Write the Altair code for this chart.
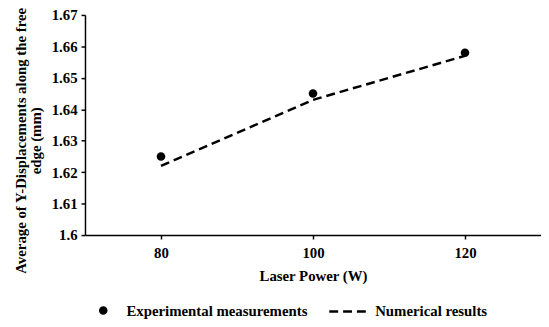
import altair as alt
import pandas as pd

power = [80, 100, 120]
experimental = [1.625, 1.645, 1.658]
numerical = [1.622, 1.643, 1.657]
y_ticks = [1.60, 1.61, 1.62, 1.63, 1.64, 1.65, 1.66, 1.67]
x_ticks = [80, 100, 120]

exp_df = pd.DataFrame({"power": power, "value": experimental,
                       "series": ["Experimental measurements"] * len(power)})
num_df = pd.DataFrame({"power": power, "value": numerical,
                       "series": ["Numerical results"] * len(power)})

FONT = "Liberation Serif"

x_enc = alt.X("power:Q",
              scale=alt.Scale(domain=[70, 130], nice=False, zero=False),
              axis=alt.Axis(values=x_ticks, title="Laser Power (W)", grid=False,
                            labelPadding=7, titlePadding=8, tickSize=4))
y_enc = alt.Y("value:Q",
              scale=alt.Scale(domain=[1.6, 1.67], nice=False, zero=False),
              axis=alt.Axis(values=y_ticks, format="~g", grid=False,
                            title=["Average of Y-Displacements along the free", "edge (mm)"],
                            tickSize=4, labelPadding=4,
                            titleFontSize=15,
                            titleAngle=-90, titleBaseline="top", titleAlign="center",
                            titleX=-72, titleY=127, titleLineHeight=15))

line = alt.Chart(num_df).mark_line(color="black", strokeWidth=2.5).encode(
    x=x_enc, y=y_enc,
    strokeDash=alt.StrokeDash("series:N", scale=alt.Scale(range=[[9, 5]]),
                              legend=alt.Legend(title=None, orient="none", legendX=246, legendY=279,
                                                symbolType="stroke", symbolSize=1600,
                                                symbolStrokeColor="black", symbolStrokeWidth=2.5,
                                                labelOffset=5, padding=0, labelLimit=300,
                                                labelFont=FONT, labelFontSize=15,
                                                labelFontWeight="bold", labelColor="black"))
)

points = alt.Chart(exp_df).mark_point(filled=True, size=75, color="black", opacity=1).encode(
    x=x_enc, y=y_enc,
    shape=alt.Shape("series:N", scale=alt.Scale(range=["circle"]),
                    legend=alt.Legend(title=None, orient="none", legendX=11, legendY=292,
                                      symbolFillColor="black", symbolStrokeColor="black",
                                      symbolSize=75, symbolOpacity=1,
                                      labelOffset=16, padding=0, labelLimit=300,
                                      labelFont=FONT, labelFontSize=15,
                                      labelFontWeight="bold", labelColor="black"))
)

chart = alt.layer(line, points).properties(
    width=462, height=223,
    autosize=alt.AutoSizeParams(type="none"),
    padding={"left": 78, "top": 5, "right": 0, "bottom": 83},
    background="white",
).configure_view(stroke=None).configure_axis(
    domainColor="black", domainWidth=1.5, tickColor="black", tickWidth=1.5,
    labelFont=FONT, labelFontSize=15, labelFontWeight="bold", labelColor="black",
    titleFont=FONT, titleFontSize=15, titleFontWeight="bold", titleColor="black",
)

chart.save("out.html", embed_options={"renderer": "svg", "actions": False})
